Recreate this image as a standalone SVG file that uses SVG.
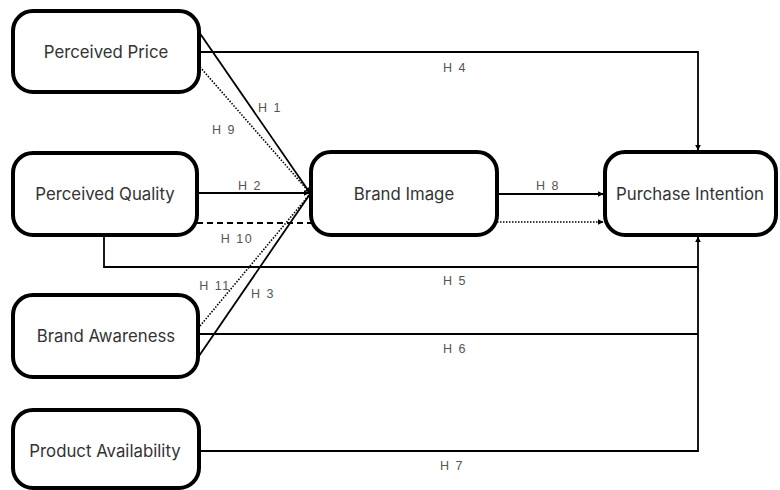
<svg xmlns="http://www.w3.org/2000/svg" width="780" height="490" viewBox="0 0 780 490">
<style>
.node rect{fill:#fff;stroke:#000;stroke-width:4}
.node text{font-family:Inter,"Liberation Sans",sans-serif;font-size:16.8px;fill:#333;text-anchor:middle;dominant-baseline:central}
.c{fill:none;stroke:#000;stroke-width:1.8}
.dot{stroke-dasharray:1.5 1.5;stroke-width:1.6}
.dash{stroke-dasharray:6 4}
.lbl{font-family:"Liberation Sans",sans-serif;font-size:12.5px;fill:#555;text-anchor:middle;letter-spacing:1.5px}
</style>
<defs>
<marker id="a" viewBox="0 0 10 10" refX="9" refY="5" markerWidth="6" markerHeight="6" orient="auto" markerUnits="userSpaceOnUse">
<path d="M0,0 L10,5 L0,10 Z" fill="#000"/>
</marker>
</defs>
<rect width="780" height="490" fill="#fff"/>
<g id="connectors">
<path class="c" d="M199,52 H698 V150" marker-end="url(#a)"/>
<path class="c" d="M199,32 L310,193" marker-end="url(#a)"/>
<path class="c dot" d="M200,67 L310,193"/>
<path class="c" d="M197,193 H309" marker-end="url(#a)"/>
<path class="c dash" d="M197,223 H311"/>
<path class="c dot" d="M200,326 L310,194"/>
<path class="c" d="M199,356 L310,194"/>
<path class="c" d="M104,235 V267 H698"/>
<path class="c" d="M199,334 H698"/>
<path class="c" d="M199,451 H698 V237" marker-end="url(#a)"/>
<path class="c" d="M497,194 H603" marker-end="url(#a)"/>
<path class="c dot" d="M497,222 H603" marker-end="url(#a)"/>
<text class="lbl" x="455" y="72">H 4</text>
<text class="lbl" x="270" y="112">H 1</text>
<text class="lbl" x="224" y="134">H 9</text>
<text class="lbl" x="250" y="190">H 2</text>
<text class="lbl" x="237" y="243">H 10</text>
<text class="lbl" x="215" y="290">H 11</text>
<text class="lbl" x="263" y="298">H 3</text>
<text class="lbl" x="548" y="190">H 8</text>
<text class="lbl" x="455" y="285">H 5</text>
<text class="lbl" x="455" y="353">H 6</text>
<text class="lbl" x="452" y="470">H 7</text>
</g>
<g id="perceived-price" class="node"><rect x="13" y="11" width="186" height="81" rx="20"/><text x="106" y="52">Perceived Price</text></g>
<g id="perceived-quality" class="node"><rect x="13" y="153" width="184" height="82" rx="20"/><text x="105" y="194">Perceived Quality</text></g>
<g id="brand-awareness" class="node"><rect x="13" y="295" width="185" height="82" rx="20"/><text x="106" y="336">Brand Awareness</text></g>
<g id="product-availability" class="node"><rect x="13" y="410" width="186" height="78" rx="20"/><text x="105" y="451">Product Availability</text></g>
<g id="brand-image" class="node"><rect x="311" y="152" width="186" height="83" rx="20"/><text x="404" y="194">Brand Image</text></g>
<g id="purchase-intention" class="node"><rect x="605" y="152" width="171" height="83" rx="20"/><text x="690" y="194">Purchase Intention</text></g>
</svg>
